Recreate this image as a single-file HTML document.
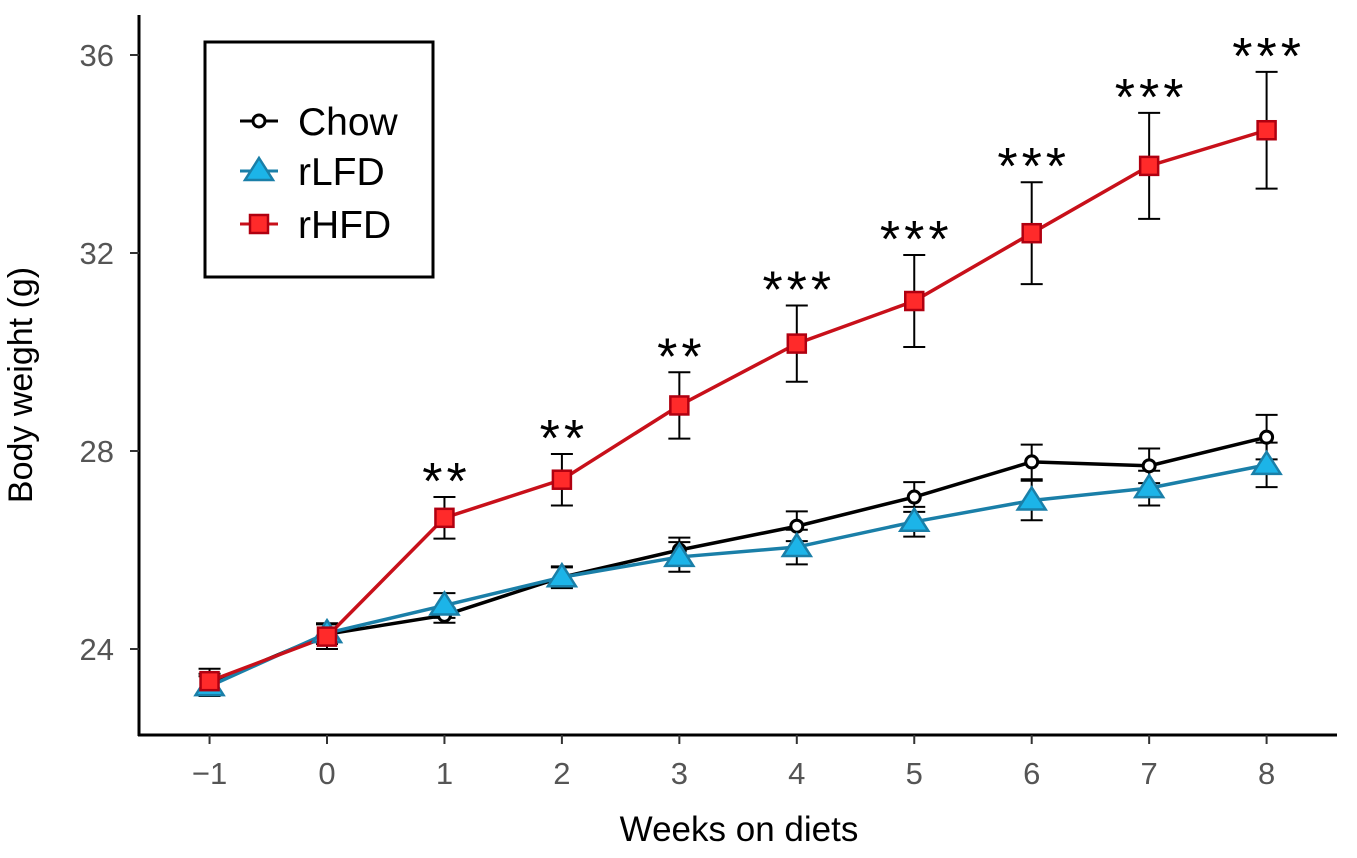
<!DOCTYPE html>
<html><head><meta charset="utf-8"><style>
html,body{margin:0;padding:0;background:#fff;}
svg{display:block;font-family:"Liberation Sans",sans-serif;}
</style></head><body>
<svg id="chart" width="1357" height="858" viewBox="0 0 1357 858" xmlns="http://www.w3.org/2000/svg">
<g id="axes"></g>
<g id="series"></g>
<g id="legend">
<rect x="205" y="42" width="228" height="235" fill="#fff" stroke="#000" stroke-width="3"/>
<g>
<line x1="240" y1="121" x2="278" y2="121" stroke="#000" stroke-width="3"/>
<circle cx="259" cy="121" r="6" fill="#fff" stroke="#000" stroke-width="3"/>
<text x="298" y="135" font-size="39">Chow</text></g>
<g>
<line x1="240" y1="171" x2="278" y2="171" stroke="#1a7fa8" stroke-width="3"/>
<polygon points="259,158 273,180 245,180" fill="#1cb4e8" stroke="#1a7fa8" stroke-width="2.5"/>
<text x="298" y="185" font-size="39">rLFD</text></g>
<g>
<line x1="240" y1="224" x2="278" y2="224" stroke="#c8101a" stroke-width="3"/>
<rect x="250" y="215" width="18" height="18" fill="#ff2a2a" stroke="#b00010" stroke-width="2.5"/>
<text x="298" y="238" font-size="39">rHFD</text></g>
</g>
</svg>
<script>
const weeks=[-1,0,1,2,3,4,5,6,7,8];
const chow=[23.3,24.3,24.68,25.45,26.0,26.48,27.07,27.78,27.7,28.28];
const chowErr=[0.2,0.2,0.15,0.2,0.25,0.3,0.3,0.35,0.35,0.45];
const rlfd=[23.25,24.32,24.88,25.45,25.86,26.06,26.57,27.0,27.25,27.72];
const rlfdErr=[0.2,0.2,0.25,0.22,0.3,0.35,0.3,0.4,0.35,0.45];
const rhfd=[23.35,24.25,26.65,27.42,28.92,30.17,31.03,32.4,33.76,34.48];
const rhfdErr=[0.25,0.25,0.42,0.52,0.67,0.77,0.93,1.03,1.07,1.18];
const stars=["","","**","**","**","***","***","***","***","***"];
const yTicks=[24,28,32,36];
const xTickLabels=["\u22121","0","1","2","3","4","5","6","7","8"];
const NS="http://www.w3.org/2000/svg";
const X=w=>327+w*117.45;
const Y=v=>649-(v-24)*49.5;
function mk(tag,attrs,parent,txt){const e=document.createElementNS(NS,tag);for(const k in attrs)e.setAttribute(k,attrs[k]);if(txt!==undefined)e.textContent=txt;parent.appendChild(e);return e;}
const ax=document.getElementById('axes');
let e=mk('line',{x1:139,y1:15,x2:139,y2:736,stroke:'#000','stroke-width':3},ax);

e=mk('line',{x1:138,y1:735,x2:1337,y2:735,stroke:'#000','stroke-width':3},ax);

yTicks.forEach(t=>{
 e=mk('line',{x1:130,y1:Y(t),x2:139,y2:Y(t),stroke:'#333','stroke-width':2},ax);
 
 e=mk('text',{x:114,y:Y(t)+11,'text-anchor':'end','font-size':31,fill:'#555'},ax,String(t));
 
});
weeks.forEach((w,i)=>{
 e=mk('line',{x1:X(w),y1:735,x2:X(w),y2:744,stroke:'#333','stroke-width':2},ax);
 
 e=mk('text',{x:X(w),y:784,'text-anchor':'middle','font-size':31,fill:'#555'},ax,xTickLabels[i]);
 
});
e=mk('text',{x:739,y:841,'text-anchor':'middle','font-size':35,fill:'#000'},ax,'Weeks on diets');

e=mk('text',{x:0,y:0,'text-anchor':'middle','font-size':34,fill:'#000',transform:'translate(32,385) rotate(-90)'},ax,'Body weight (g)');

const sg=document.getElementById('series');
function errBars(vals,errs,name){weeks.forEach((w,i)=>{
 const g=mk('g',{stroke:'#000','stroke-width':2},sg);
 
 mk('line',{x1:X(w),y1:Y(vals[i]-errs[i]),x2:X(w),y2:Y(vals[i]+errs[i])},g);
 mk('line',{x1:X(w)-11,y1:Y(vals[i]-errs[i]),x2:X(w)+11,y2:Y(vals[i]-errs[i])},g);
 mk('line',{x1:X(w)-11,y1:Y(vals[i]+errs[i]),x2:X(w)+11,y2:Y(vals[i]+errs[i])},g);
});}
function line(vals,col,name){e=mk('polyline',{points:weeks.map((w,i)=>X(w)+','+Y(vals[i])).join(' '),fill:'none',stroke:col,'stroke-width':3.5},sg);
 }
errBars(chow,chowErr,'chow');errBars(rlfd,rlfdErr,'rlfd');errBars(rhfd,rhfdErr,'rhfd');
line(chow,'#000','chow');line(rlfd,'#1a7fa8','rlfd');line(rhfd,'#c8101a','rhfd');
weeks.forEach((w,i)=>{
 e=mk('circle',{cx:X(w),cy:Y(chow[i]),r:6,fill:'#fff',stroke:'#000','stroke-width':3},sg);
 
});
weeks.forEach((w,i)=>{const x=X(w),y=Y(rlfd[i]);
 e=mk('polygon',{points:`${x},${y-13} ${x+14},${y+9} ${x-14},${y+9}`,fill:'#1cb4e8',stroke:'#1a7fa8','stroke-width':2.5},sg);
 
});
weeks.forEach((w,i)=>{const x=X(w),y=Y(rhfd[i]);
 e=mk('rect',{x:x-9,y:y-9,width:18,height:18,fill:'#ff2a2a',stroke:'#b00010','stroke-width':2.5},sg);
 
 if(stars[i]){e=mk('text',{x:x+2,y:Y(rhfd[i]+rhfdErr[i])+2,'text-anchor':'middle','font-size':52,'letter-spacing':4,fill:'#000'},sg,stars[i]);
 }
});
</script>
</body></html>
